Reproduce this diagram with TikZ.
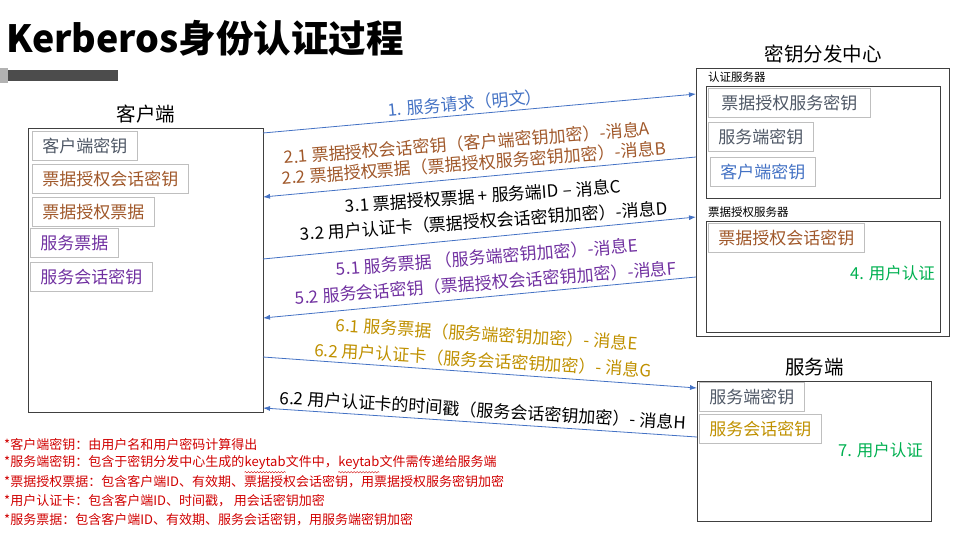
\documentclass[tikz,border=0pt]{standalone}
\usepackage{fontspec}
\setmainfont{Noto Sans CJK SC}
\usetikzlibrary{positioning, arrows.meta, decorations.pathmorphing}
\definecolor{msgblue}{HTML}{4472C4}
\definecolor{tgtbrown}{HTML}{A0582A}
\definecolor{svpurple}{HTML}{7030A0}
\definecolor{svgold}{HTML}{BF9000}
\definecolor{okgreen}{HTML}{00B050}
\definecolor{keygray}{HTML}{4F5866}
\definecolor{boxgray}{HTML}{BFBFBF}
\definecolor{notered}{HTML}{D00000}
\tikzset{
    panel/.style={draw=black!75, line width=1pt, anchor=north west, inner sep=0pt},
    keybox/.style={draw=boxgray, line width=0.9pt, anchor=north west, inner xsep=10pt, inner ysep=0pt, minimum height=29pt, font=\fontsize{17}{17}\selectfont},
    boxtitle/.style={inner sep=0pt, font=\fontsize{19.5}{20}\selectfont},
    sublabel/.style={inner sep=0pt, font=\fontsize{11.5}{12}\selectfont},
    msg/.style={inner sep=0pt, font=\fontsize{17}{17}\selectfont},
    msgline/.style={draw=msgblue, line width=0.8pt},
    note/.style={inner sep=0pt, anchor=west, text=notered, font=\fontsize{13}{13}\selectfont},
    notepart/.style={inner sep=0pt, anchor=base west, text=notered, font=\fontsize{13}{13}\selectfont},
    spellwave/.style={draw=notered, line width=0.4pt, decorate, decoration={snake, segment length=3pt, amplitude=0.7pt}},
    authok/.style={inner sep=0pt, anchor=east, text=okgreen, font=\fontsize{16.5}{17}\selectfont}
}

\begin{document}
\begin{tikzpicture}[x=1pt, y=-1pt, >={Latex[length=7pt, width=5pt]}]
  \useasboundingbox (0,0) rectangle (974,533);

  % title and bar
  \node[anchor=west, inner sep=0pt, font=\fontsize{37.5}{38}\selectfont\bfseries] (title) at (6,38) {Kerberos身份认证过程};
  \fill[black!30] (0,68) rectangle (8,83);
  \fill[black!70] (8,70) rectangle (118,81);

  % client
  \node[panel, minimum width=235pt, minimum height=284pt] (client) at (28,128) {};
  \node[boxtitle, above=5pt of client] (clientname) {客户端};
  \node[keybox, text=keygray]   (ck)    at (32,131) {客户端密钥};
  \node[keybox, text=tgtbrown]  (ctgsk) at (32,164) {票据授权会话密钥};
  \node[keybox, text=tgtbrown]  (ctgt)  at (32,197) {票据授权票据};
  \node[keybox, text=svpurple]  (cst)   at (30,228) {服务票据};
  \node[keybox, text=svpurple]  (cssk)  at (30,262) {服务会话密钥};

  % key distribution center
  \node[panel, minimum width=253pt, minimum height=268pt] (kdc) at (696,68) {};
  \node[boxtitle, above=5pt of kdc] (kdcname) {密钥分发中心};
  \node[panel, minimum width=234pt, minimum height=112pt] (as) at (706,86) {};
  \node[sublabel, above right=3pt and 2pt of as.north west] (asname) {认证服务器};
  \node[keybox, text=keygray, minimum width=162pt] (astgsk) at (708,88) {票据授权服务密钥};
  \node[keybox, text=keygray]  (assk) at (708,122) {服务端密钥};
  \node[keybox, text=msgblue]  (asck) at (710,157) {客户端密钥};
  \node[panel, minimum width=234pt, minimum height=111pt] (tgs) at (706,221) {};
  \node[sublabel, above right=3pt and 2pt of tgs.north west] (tgsname) {票据授权服务器};
  \node[keybox, text=tgtbrown] (tgssk) at (708,223) {票据授权会话密钥};
  \node[authok] (tgsok) at (935,273) {4. 用户认证};

  % server
  \node[panel, minimum width=234pt, minimum height=140pt] (server) at (697,381) {};
  \node[boxtitle, above=5pt of server] (servername) {服务端};
  \node[keybox, text=keygray] (svsk)  at (699,382) {服务端密钥};
  \node[keybox, text=svgold]  (svssk) at (699,414) {服务会话密钥};
  \node[authok] (svok) at (923,450) {7. 用户认证};

  % message ends
  \coordinate (c1) at (263,133);  \coordinate (k1) at (696,94);
  \coordinate (k2) at (696,157);  \coordinate (c2) at (263,197);
  \coordinate (c3) at (263,259);  \coordinate (k3) at (696,217);
  \coordinate (k5) at (696,277);  \coordinate (c5) at (263,318);
  \coordinate (c6) at (263,357);  \coordinate (s6) at (697,388);
  \coordinate (s7) at (697,437);  \coordinate (c7) at (263,408);

  \draw[->, msgline] (c1) -- (k1);
  \draw[->, msgline] (k2) -- (c2);
  \draw[->, msgline] (c3) -- (k3);
  \draw[->, msgline] (k5) -- (c5);
  \draw[->, msgline] (c6) -- (s6);
  \draw[->, msgline] (s7) -- (c7);

  % message labels
  \node[msg, text=msgblue, rotate=5]    (l1)  at (465,103) {1. 服务请求（明文）};
  \node[msg, text=tgtbrown, rotate=4.5] (l21) at (467,143) {2.1 票据授权会话密钥（客户端密钥加密）-消息A};
  \node[msg, text=tgtbrown, rotate=4.5] (l22) at (474,163) {2.2 票据授权票据（票据授权服务密钥加密）-消息B};
  \node[msg, rotate=4]                  (l31) at (483,196) {3.1 票据授权票据 + 服务端ID – 消息C};
  \node[msg, rotate=4]                  (l32) at (484,221) {3.2 用户认证卡（票据授权会话密钥加密）-消息D};
  \node[msg, text=svpurple, rotate=4.5] (l51) at (487,257) {5.1 服务票据 （服务端密钥加密）-消息E};
  \node[msg, text=svpurple, rotate=4.5] (l52) at (486,283) {5.2 服务会话密钥（票据授权会话密钥加密）-消息F};
  \node[msg, text=svgold, rotate=-3.5]  (l61) at (487,334) {6.1 服务票据（服务端密钥加密）- 消息E};
  \node[msg, text=svgold, rotate=-3.5]  (l62) at (483,360) {6.2 用户认证卡（服务会话密钥加密）- 消息G};
  \node[msg, rotate=-3.5]               (l7)  at (483,410) {6.2 用户认证卡的时间戳（服务会话密钥加密）- 消息H};

  % notes
  \node[note] (n1) at (4,445) {*客户端密钥：由用户名和用户密码计算得出};
  \node[note] (n2) at (4,462) {*服务端密钥：包含于密钥分发中心生成的};
  \node[notepart] (n2k1) at (n2.base east) {keytab};
  \node[notepart] (n2b) at (n2k1.base east) {文件中，};
  \node[notepart] (n2k2) at (n2b.base east) {keytab};
  \node[notepart] (n2c) at (n2k2.base east) {文件需传递给服务端};
  \draw[spellwave] ([yshift=-2pt]n2k1.south west) -- ([yshift=-2pt]n2k1.south east);
  \draw[spellwave] ([yshift=-2pt]n2k2.south west) -- ([yshift=-2pt]n2k2.south east);
  \node[note] (n3) at (4,482) {*票据授权票据：包含客户端ID、有效期、票据授权会话密钥，用票据授权服务密钥加密};
  \node[note] (n4) at (4,501) {*用户认证卡：包含客户端ID、时间戳， 用会话密钥加密};
  \node[note] (n5) at (4,520) {*服务票据：包含客户端ID、有效期、服务会话密钥，用服务端密钥加密};
\end{tikzpicture}
\end{document}
